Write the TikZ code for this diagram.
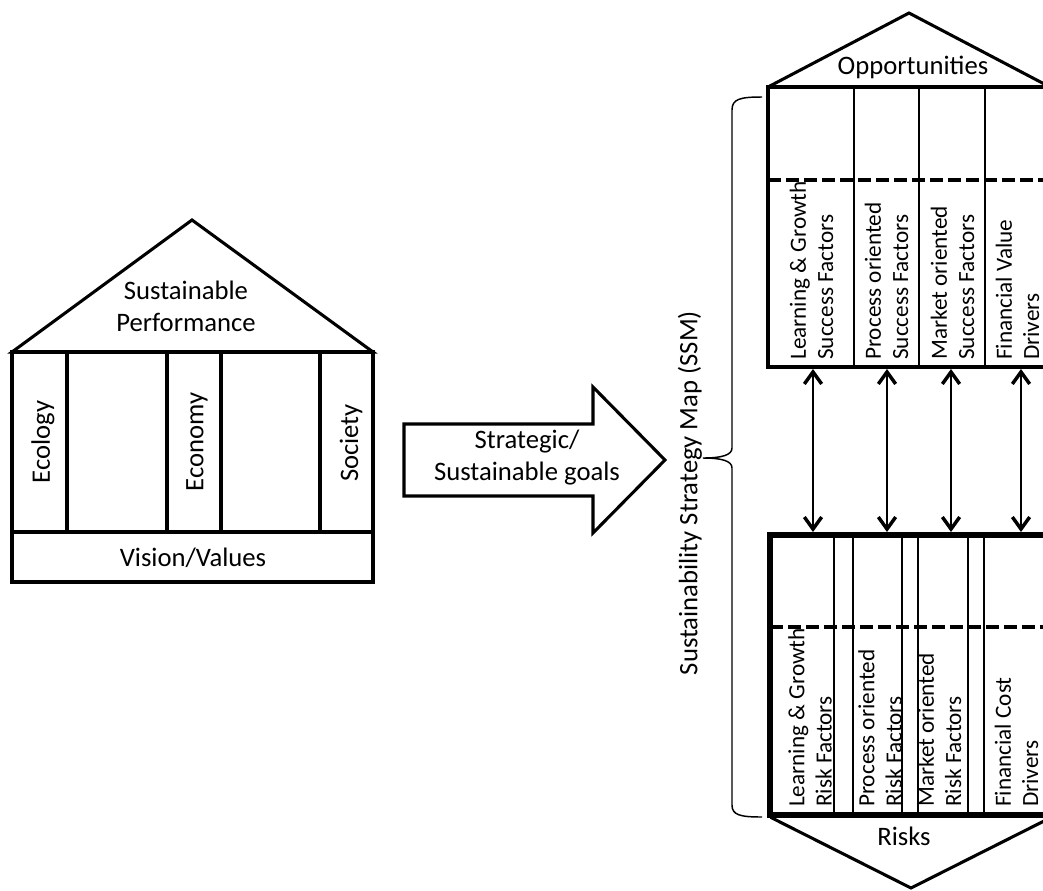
\documentclass[tikz,border=0pt]{standalone}
\usepackage{fontspec}
\setmainfont{Carlito}
\usetikzlibrary{arrows.meta}

\begin{document}
\begin{tikzpicture}[x=0.75pt,y=-0.75pt,
  label/.style={font=\fontsize{20}{24}\selectfont, inner sep=0pt, align=center},
  vlabel/.style={label, rotate=90},
  coltext/.style={font=\fontsize{17.4}{20.5}\selectfont, rotate=90, align=left, anchor=west, inner sep=0pt},
  outline/.style={line width=2.3pt, line join=miter, line cap=rect},
  rule/.style={line width=1.1pt},
  upperframe/.style={line width=3pt, line join=miter},
  lowerframe/.style={line width=4.6pt, line join=miter},
  divider/.style={line width=3pt, dash pattern=on 9.75pt off 3.75pt},
  link/.style={line width=1.4pt, {Straight Barb[length=9pt,width=13pt,line width=2.6pt]}-{Straight Barb[length=9pt,width=13pt,line width=2.6pt]}},
  bracket/.style={line width=1.1pt}
]
\useasboundingbox (0,0) rectangle (1043,890);
\clip (0,0) rectangle (1043,890);

% ---------- house of sustainable performance ----------
\draw[outline] (12,352) -- (192,220) -- (373,352) -- cycle;
\draw[outline] (12,352) rectangle (373,582);
\draw[outline] (12,532) -- (373,532);
\foreach \x in {67,167,221,320} \draw[outline] (\x,352) -- (\x,532);

\node[label] (perf) at (186,306) {Sustainable\\Performance};
\node[vlabel] (ecology) at (43,442) {Ecology};
\node[vlabel] (economy) at (197,442) {Economy};
\node[vlabel] (society) at (351,443) {Society};
\node[label] (vision) at (193,558) {Vision/Values};

% ---------- block arrow ----------
\draw[outline] (404,424) -- (593,424) -- (593,387) -- (665,460) -- (593,533) -- (593,496) -- (404,496) -- cycle;
\node[label] (goals) at (527,458) {Strategic/\\Sustainable goals};

% ---------- brace and map title ----------
\draw[bracket] (762,97) .. controls (740,97) and (732,99) .. (732,110)
  -- (732,448) .. controls (732,455) and (722,458) .. (703,458)
  .. controls (722,458) and (732,461) .. (732,468)
  -- (732,805) .. controls (732,815) and (740,817) .. (762,817);
\node[vlabel] (ssm) at (690,493) {Sustainability Strategy Map (SSM)};

% ---------- opportunities (upper part of the map) ----------
\draw[outline] (768,87) -- (909,13) -- (1050,87);
\node[label] (opp) at (913,67) {Opportunities};
\foreach \x in {854,919,985} \draw[rule] (\x,87) -- (\x,367);
\draw[divider] (768,180) -- (1050,180);
\draw[upperframe] (1050,87) -- (768,87) -- (768,367) -- (1050,367);

\node[coltext] (lgs) at (811.5,360) {Learning \& Growth\\Success Factors};
\node[coltext] (pos) at (886.5,360) {Process oriented\\Success Factors};
\node[coltext] (mos) at (952.5,360) {Market oriented\\Success Factors};
\node[coltext] (fvd) at (1017.5,360) {Financial Value\\Drivers};

% ---------- risks (lower part of the map) ----------
\foreach \x in {834,853,902,918,968,984} \draw[rule] (\x,535) -- (\x,815);
\draw[divider] (770,627) -- (1050,627);
\draw[lowerframe] (1050,535) -- (770,535) -- (770,815) -- (1050,815);
\draw[outline] (772,818) -- (911,888) -- (1050,818);
\node[label] (risks) at (904,836) {Risks};

\node[coltext] (lgr) at (810,807) {Learning \& Growth\\Risk Factors};
\node[coltext] (por) at (880,807) {Process oriented\\Risk Factors};
\node[coltext] (mor) at (939.5,807) {Market oriented\\Risk Factors};
\node[coltext] (fcd) at (1016.5,807) {Financial Cost\\Drivers};

% ---------- links between success and risk factors ----------
\foreach \n/\x in {a/813,b/887,c/951,d/1021} {
  \coordinate (up\n) at (\x,369);
  \coordinate (lo\n) at (\x,532);
  \draw[link] (up\n) -- (lo\n);
}
\end{tikzpicture}
\end{document}
